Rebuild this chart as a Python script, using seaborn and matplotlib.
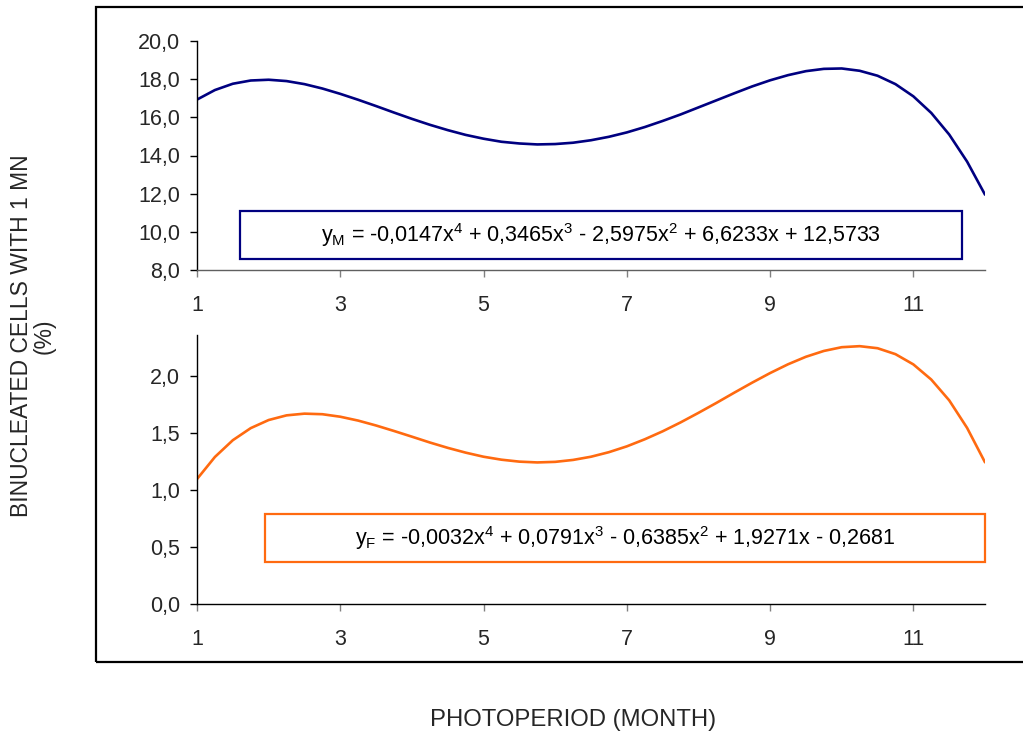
import matplotlib
matplotlib.use("Agg")
import matplotlib.pyplot as plt
import seaborn as sns
import pandas as pd
from matplotlib.ticker import FuncFormatter
from matplotlib.patches import Rectangle

months = [1, 1.25, 1.5, 1.75, 2, 2.25, 2.5, 2.75, 3, 3.25, 3.5, 3.75, 4, 4.25,
          4.5, 4.75, 5, 5.25, 5.5, 5.75, 6, 6.25, 6.5, 6.75, 7, 7.25, 7.5,
          7.75, 8, 8.25, 8.5, 8.75, 9, 9.25, 9.5, 9.75, 10, 10.25, 10.5,
          10.75, 11, 11.25, 11.5, 11.75, 12]
male = [16.93, 17.43, 17.76, 17.93, 17.97, 17.90, 17.74, 17.51, 17.23, 16.92,
        16.59, 16.25, 15.92, 15.61, 15.33, 15.08, 14.88, 14.72, 14.63, 14.58,
        14.60, 14.67, 14.80, 14.98, 15.21, 15.49, 15.81, 16.15, 16.52, 16.89,
        17.26, 17.62, 17.94, 18.21, 18.42, 18.54, 18.56, 18.44, 18.18, 17.74,
        17.10, 16.23, 15.10, 13.68, 11.95]
female = [1.096, 1.290, 1.437, 1.543, 1.614, 1.655, 1.670, 1.665, 1.643, 1.609,
          1.566, 1.518, 1.468, 1.417, 1.370, 1.328, 1.292, 1.266, 1.249, 1.242,
          1.247, 1.264, 1.292, 1.332, 1.383, 1.445, 1.515, 1.593, 1.677, 1.764,
          1.854, 1.942, 2.026, 2.103, 2.169, 2.220, 2.253, 2.262, 2.244, 2.192,
          2.102, 1.969, 1.787, 1.545, 1.243]
x_ticks = [1, 3, 5, 7, 9, 11]
male_yticks = [8, 10, 12, 14, 16, 18, 20]
female_yticks = [0.0, 0.5, 1.0, 1.5, 2.0]
eq_male = r"y$_\mathregular{M}$ = -0,0147x$^\mathregular{4}$ + 0,3465x$^\mathregular{3}$ - 2,5975x$^\mathregular{2}$ + 6,6233x + 12,5733"
eq_female = r"y$_\mathregular{F}$ = -0,0032x$^\mathregular{4}$ + 0,0791x$^\mathregular{3}$ - 0,6385x$^\mathregular{2}$ + 1,9271x - 0,2681"

NAVY = "#000080"
ORANGE = "#FF6A10"

sns.set_style("white")
plt.rcParams["font.family"] = ["Liberation Sans", "DejaVu Sans"]
plt.rcParams["mathtext.fontset"] = "custom"
plt.rcParams["mathtext.rm"] = "Liberation Sans"

W, H = 1023, 740
fig = plt.figure(figsize=(W / 100, H / 100), dpi=100)

def ax_rect(l, r, t, b):
    return [l / W, 1 - b / H, (r - l) / W, (b - t) / H]

ax1 = fig.add_axes(ax_rect(197, 985, 41, 270))
ax2 = fig.add_axes(ax_rect(197, 985, 335, 604))

df_m = pd.DataFrame({"month": months, "value": male})
df_f = pd.DataFrame({"month": months, "value": female})
sns.lineplot(data=df_m, x="month", y="value", ax=ax1, color=NAVY, lw=1.9)
sns.lineplot(data=df_f, x="month", y="value", ax=ax2, color=ORANGE, lw=1.9)

comma1 = FuncFormatter(lambda v, p: f"{v:.1f}".replace(".", ","))

for ax, yt, ylim in [(ax1, male_yticks, (8, 20)), (ax2, female_yticks, (0, 2.36))]:
    ax.set_xlim(1, 12)
    ax.set_ylim(*ylim)
    ax.set_xticks(x_ticks)
    ax.set_xticklabels([str(t) for t in x_ticks])
    ax.set_yticks(yt)
    ax.yaxis.set_major_formatter(comma1)
    ax.set_xlabel("")
    ax.set_ylabel("")
    for s in ["top", "right"]:
        ax.spines[s].set_visible(False)
    ax.spines["left"].set_color("black")
    ax.spines["left"].set_linewidth(1.0)
    ax.spines["bottom"].set_linewidth(1.0)
    ax.tick_params(axis="y", direction="out", length=5, width=1, color="black",
                   labelsize=15.5, pad=7, left=True)
    ax.tick_params(axis="x", direction="out", length=5, width=1, color="#808080",
                   labelsize=15.5, pad=13, bottom=True)
    ax.patch.set_alpha(0)

ax1.spines["bottom"].set_color("#606060")
ax2.spines["bottom"].set_color("black")

def add_box(l, r, t, b, color, text):
    fig.patches.append(Rectangle((l / W, 1 - b / H), (r - l) / W, (b - t) / H,
                                 transform=fig.transFigure, fill=False,
                                 edgecolor=color, lw=1.6, zorder=5))
    fig.text((l + r) / 2 / W, 1 - (t + b) / 2 / H, text, ha="center",
             va="center", fontsize=15.5, color="black", zorder=6)

add_box(240, 962, 211, 259, NAVY, eq_male)
add_box(265, 985, 514, 562, ORANGE, eq_female)

fig.patches.append(Rectangle((96 / W, 1 - 662 / H), (W + 10 - 96) / W, (662 - 7) / H,
                             transform=fig.transFigure, fill=False,
                             edgecolor="black", lw=1.6))

fig.text(33 / W, 1 - 336 / H, "BINUCLEATED CELLS WITH 1 MN\n(%)", rotation=90,
         ha="center", va="center", fontsize=16.5, linespacing=1.0)
fig.text(573 / W, 1 - 720 / H, "PHOTOPERIOD (MONTH)", ha="center", va="center",
         fontsize=17.2)

fig.savefig("out.png", dpi=100)
